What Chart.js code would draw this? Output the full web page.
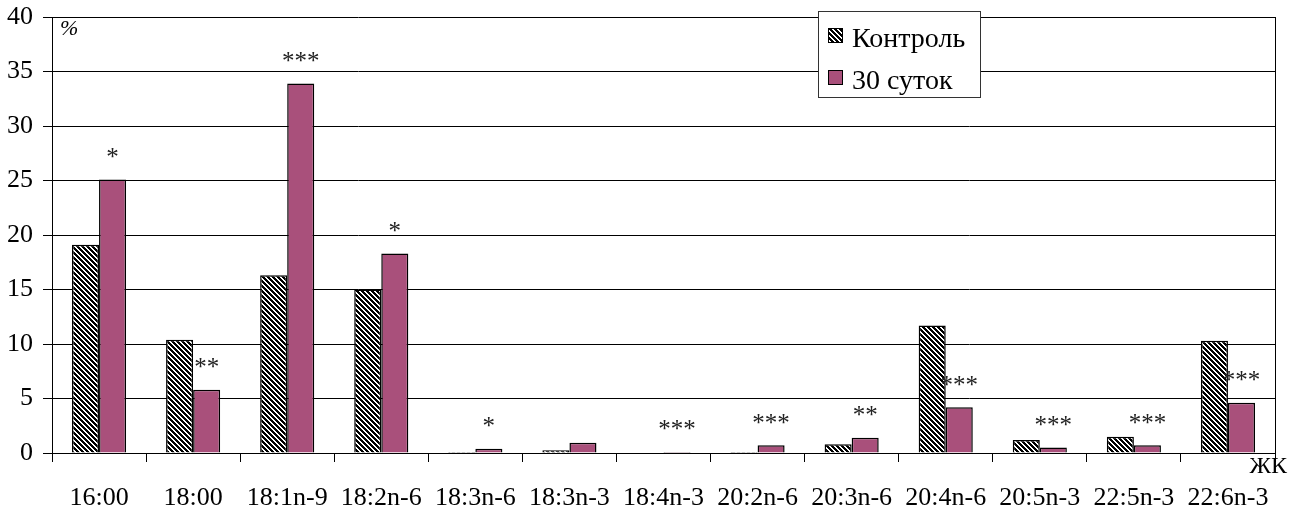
<!DOCTYPE html>
<html>
<head>
<meta charset="utf-8">
<script src="https://cdn.jsdelivr.net/npm/chart.js@4/dist/chart.umd.min.js"></script>
<style>
  html, body { margin: 0; padding: 0; background: #fff; }
  #chart { display: block; }
</style>
</head>
<body>
<canvas id="chart" width="1306" height="513"></canvas>
<script>
const categories = ['16:00', '18:00', '18:1n-9', '18:2n-6', '18:3n-6', '18:3n-3', '18:4n-3',
  '20:2n-6', '20:3n-6', '20:4n-6', '20:5n-3', '22:5n-3', '22:6n-3'];
const control = [19.1, 10.4, 16.3, 15.0, 0.1, 0.25, 0, 0.1, 0.8, 11.7, 1.2, 1.5, 10.3];
const days30 = [25.1, 5.8, 33.9, 18.3, 0.4, 0.95, 0.1, 0.7, 1.4, 4.2, 0.5, 0.7, 4.6];
const stars = ['*', '**', '***', '*', '*', '', '***', '***', '**', '***', '***', '***', '***'];
const seriesNames = ['Контроль', '30 суток'];
const yTicks = [0, 5, 10, 15, 20, 25, 30, 35, 40];

const FONT = "'Liberation Serif', 'Times New Roman', serif";
const PURPLE = '#A9507B';

// diagonal "\" hatching
function makeHatch() {
  const s = 5;
  const c = document.createElement('canvas');
  c.width = s; c.height = s;
  const g = c.getContext('2d');
  const img = g.createImageData(s, s);
  for (let y = 0; y < s; y++) {
    for (let x = 0; x < s; x++) {
      const on = (((x - y) % s) + s) % s < 2.5;
      const v = on ? 0 : 255;
      const i = (y * s + x) * 4;
      img.data[i] = v; img.data[i + 1] = v; img.data[i + 2] = v; img.data[i + 3] = 255;
    }
  }
  g.putImageData(img, 0, 0);
  return document.getElementById('chart').getContext('2d').createPattern(c, 'repeat');
}
const hatch = makeHatch();

const extras = {
  id: 'extras',
  afterDatasetsDraw(chart) {
    const { ctx, chartArea: { left, top, right, bottom } } = chart;
    ctx.save();
    // right frame
    ctx.strokeStyle = '#000';
    ctx.lineWidth = 1;
    ctx.beginPath();
    ctx.moveTo(right + 0.5, top);
    ctx.lineTo(right + 0.5, bottom);
    ctx.stroke();

    // significance marks
    ctx.fillStyle = '#222';
    ctx.font = '25px ' + FONT;
    ctx.textAlign = 'center';
    ctx.textBaseline = 'middle';
    const meta = chart.getDatasetMeta(1);
    meta.data.forEach((bar, i) => {
      if (stars[i]) ctx.fillText(stars[i], bar.x, bar.y - 21);
    });

    // unit labels
    ctx.fillStyle = '#000';
    ctx.font = 'italic 22px ' + FONT;
    ctx.textAlign = 'left';
    ctx.fillText('%', left + 8, top + 12);
    ctx.font = '24px ' + FONT;
    ctx.textAlign = 'right';
    ctx.fillText('ЖК', right + 12, bottom + 14);

    // legend
    const lx = 818, ly = 11, lw = 162, lh = 86;
    ctx.fillStyle = '#fff';
    ctx.fillRect(lx, ly, lw, lh);
    ctx.strokeStyle = '#333';
    ctx.strokeRect(lx + 0.5, ly + 0.5, lw, lh);
    const fills = [hatch, PURPLE];
    ctx.font = '28px ' + FONT;
    ctx.textBaseline = 'alphabetic';
    ctx.textAlign = 'left';
    seriesNames.forEach((name, i) => {
      const y = ly + 17 + i * 42;
      ctx.fillStyle = fills[i];
      ctx.fillRect(lx + 10, y, 15, 15);
      ctx.strokeStyle = '#000';
      ctx.strokeRect(lx + 10.5, y + 0.5, 14, 14);
      ctx.fillStyle = '#000';
      ctx.fillText(name, lx + 34, y + 19);
    });
    ctx.restore();
  }
};

new Chart(document.getElementById('chart'), {
  type: 'bar',
  data: {
    labels: categories,
    datasets: [
      {
        label: seriesNames[0],
        data: control,
        backgroundColor: hatch,
        borderColor: '#000',
        borderWidth: 1.5,
        categoryPercentage: 0.575,
        barPercentage: 1
      },
      {
        label: seriesNames[1],
        data: days30,
        backgroundColor: PURPLE,
        borderColor: '#000',
        borderWidth: 1.5,
        categoryPercentage: 0.575,
        barPercentage: 1
      }
    ]
  },
  options: {
    responsive: false,
    devicePixelRatio: 1,
    animation: false,
    layout: { padding: { top: 17, right: 31, left: 0, bottom: 0 } },
    plugins: {
      legend: { display: false },
      tooltip: { enabled: false }
    },
    scales: {
      x: {
        grid: {
          offset: true,
          drawOnChartArea: false,
          color: '#000',
          tickLength: 9
        },
        border: { color: '#000', width: 1 },
        ticks: {
          color: '#000',
          font: { family: FONT, size: 26 },
          padding: 21,
          maxRotation: 0,
          autoSkip: false
        },
        afterFit(scale) { scale.height = 60; }
      },
      y: {
        min: 0,
        max: 40,
        afterBuildTicks(scale) { scale.ticks = yTicks.map(v => ({ value: v })); },
        grid: {
          color: '#000',
          lineWidth: 1,
          tickLength: 9
        },
        border: { color: '#000', width: 1 },
        ticks: {
          color: '#000',
          font: { family: FONT, size: 26 },
          padding: 10
        },
        afterFit(scale) {
          scale.width = 52;
          scale.paddingTop = 0;
          scale.paddingBottom = 0;
        }
      }
    }
  },
  plugins: [extras]
});
</script>
</body>
</html>
